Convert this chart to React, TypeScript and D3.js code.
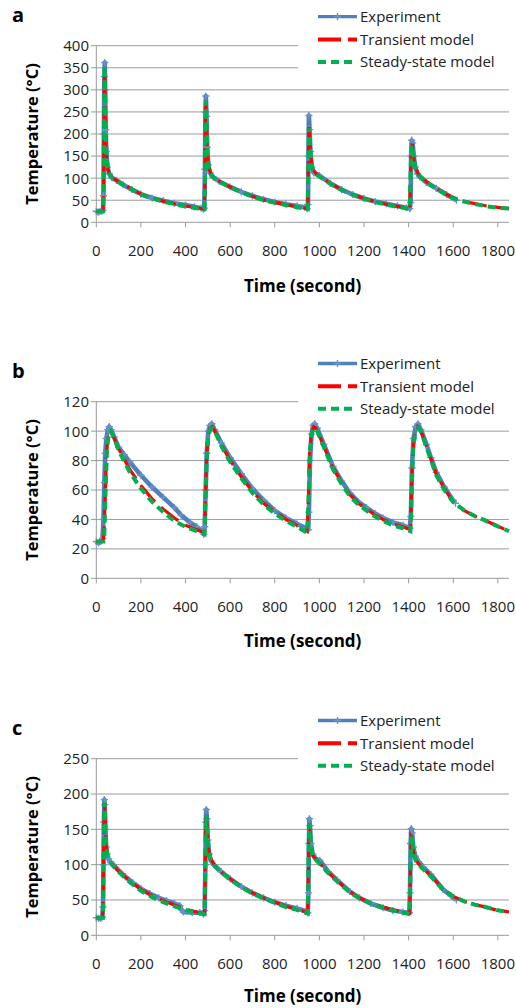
import React from 'react';
import * as d3 from 'd3';

type Pt = [number, number];

// axis ticks
const timeTicks = [0, 200, 400, 600, 800, 1000, 1200, 1400, 1600, 1800];
const aTempTicks = [0, 50, 100, 150, 200, 250, 300, 350, 400];
const bTempTicks = [0, 20, 40, 60, 80, 100, 120];
const cTempTicks = [0, 50, 100, 150, 200, 250];
const legendLabels = ['Experiment', 'Transient model', 'Steady-state model'];

// panel a
const aExperiment: Pt[] = [
  [0, 25], [8, 23], [16, 24], [24, 25], [30, 27], [32, 60], [34, 200], [36, 330], [38, 362], [40, 300], [42, 210], [45, 160], [50, 125], [58, 110], [70, 101], [90, 95], [120, 85], [160, 74], [200, 64], [250, 55], [300, 49], [350, 43], [400, 39], [440, 35], [470, 32], [480, 30],
  [484, 32], [487, 120], [489, 250], [491, 286], [494, 240], [497, 170], [502, 130], [510, 112], [525, 102], [550, 93], [600, 80], [650, 69], [700, 60], [750, 52], [800, 46], [850, 41], [900, 37], [935, 34], [945, 31],
  [949, 40], [951, 150], [953, 242], [956, 210], [960, 160], [966, 125], [975, 112], [1000, 106], [1050, 88], [1100, 74], [1150, 63], [1200, 54], [1250, 47], [1300, 42], [1350, 37], [1390, 33], [1405, 31],
  [1409, 45], [1411, 150], [1414, 186], [1418, 180], [1423, 150], [1430, 125], [1440, 110], [1450, 103], [1480, 90], [1524, 77], [1570, 63], [1614, 50],
];
const aTransient: Pt[] = [
  [0, 25], [30, 25], [32, 50], [34, 180], [36, 320], [38, 340], [40, 260], [43, 180], [47, 140], [52, 120], [60, 108], [75, 100], [100, 92], [150, 78], [200, 64], [250, 55], [300, 48], [350, 42], [400, 37], [450, 33], [485, 30],
  [487, 90], [489, 220], [491, 272], [494, 220], [498, 155], [504, 125], [515, 108], [540, 96], [600, 80], [650, 69], [700, 59], [750, 51], [800, 45], [850, 40], [900, 35], [948, 31],
  [950, 120], [953, 220], [957, 190], [962, 145], [970, 120], [990, 108], [1050, 88], [1100, 74], [1150, 63], [1200, 54], [1250, 47], [1300, 41], [1350, 36], [1405, 31],
  [1408, 100], [1412, 170], [1416, 178], [1422, 150], [1430, 125], [1445, 108], [1480, 92], [1524, 77], [1570, 63], [1620, 52], [1680, 44], [1740, 38], [1800, 34], [1850, 31],
];
const aSteady: Pt[] = [
  [0, 25], [31, 25], [33, 80], [35, 250], [37, 355], [39, 300], [42, 200], [46, 145], [52, 122], [60, 108], [75, 99], [100, 91], [150, 77], [200, 63], [250, 54], [300, 47], [350, 41], [400, 36], [450, 32], [485, 30],
  [488, 120], [490, 240], [492, 275], [495, 215], [499, 150], [505, 122], [515, 107], [540, 95], [600, 79], [650, 68], [700, 58], [750, 50], [800, 44], [850, 39], [900, 34], [948, 30],
  [951, 140], [954, 213], [958, 180], [963, 140], [971, 118], [990, 107], [1050, 87], [1100, 73], [1150, 62], [1200, 53], [1250, 46], [1300, 40], [1350, 35], [1405, 30],
  [1409, 110], [1413, 172], [1417, 175], [1423, 145], [1431, 122], [1445, 107], [1480, 91], [1524, 76], [1570, 62], [1620, 51], [1680, 43], [1740, 37], [1800, 33], [1850, 31],
];

// panel b
const bExperiment: Pt[] = [
  [0, 25], [10, 24], [20, 25], [28, 27], [32, 40], [36, 65], [40, 85], [45, 95], [52, 101], [58, 103], [66, 101], [80, 96], [100, 89], [125, 84], [150, 79], [200, 70], [250, 62], [300, 55], [350, 48], [380, 43], [420, 38], [450, 35], [475, 32], [482, 30],
  [486, 35], [490, 60], [495, 85], [502, 100], [510, 104], [518, 105], [530, 101], [560, 92], [600, 82], [650, 71], [700, 61], [750, 53], [800, 46], [850, 41], [900, 37], [940, 34], [950, 33],
  [953, 45], [958, 80], [965, 98], [972, 104], [979, 105], [990, 102], [1020, 91], [1061, 76], [1100, 66], [1136, 58], [1175, 52], [1211, 48], [1250, 44], [1285, 41], [1330, 38], [1375, 36], [1405, 34],
  [1410, 42], [1415, 75], [1422, 95], [1432, 103], [1442, 105], [1455, 101], [1480, 91], [1500, 82], [1524, 72], [1560, 62], [1599, 53], [1610, 51],
];
const bTransient: Pt[] = [
  [0, 25], [30, 25], [34, 30], [40, 55], [46, 85], [54, 98], [62, 100], [75, 97], [100, 88], [150, 74], [200, 63], [250, 54], [300, 47], [350, 41], [400, 36], [450, 33], [485, 31],
  [489, 50], [494, 80], [500, 96], [510, 102], [520, 103], [535, 99], [560, 91], [600, 80], [650, 69], [700, 59], [750, 51], [800, 45], [850, 40], [900, 36], [945, 32],
  [950, 50], [956, 85], [964, 98], [975, 103], [985, 102], [1020, 90], [1061, 75], [1100, 65], [1136, 57], [1175, 51], [1211, 47], [1250, 43], [1285, 40], [1330, 37], [1375, 35], [1408, 33],
  [1412, 55], [1418, 85], [1427, 98], [1440, 103], [1452, 101], [1480, 90], [1524, 71], [1560, 61], [1599, 52], [1650, 46], [1700, 42], [1733, 40], [1790, 36], [1850, 32],
];
const bSteady: Pt[] = [
  [0, 25], [32, 25], [36, 30], [42, 60], [48, 88], [56, 98], [65, 100], [78, 96], [100, 87], [150, 72], [200, 61], [250, 52], [300, 45], [350, 39], [400, 35], [450, 32], [485, 30],
  [490, 55], [496, 85], [503, 97], [513, 102], [523, 102], [540, 97], [560, 90], [600, 79], [650, 68], [700, 58], [750, 50], [800, 44], [850, 39], [900, 35], [945, 31],
  [952, 55], [958, 88], [967, 99], [978, 102], [990, 100], [1020, 89], [1061, 74], [1100, 64], [1136, 56], [1175, 50], [1211, 46], [1250, 42], [1285, 39], [1330, 36], [1375, 34], [1408, 32],
  [1414, 60], [1420, 88], [1430, 99], [1443, 102], [1455, 100], [1480, 89], [1524, 70], [1560, 60], [1599, 52], [1650, 46], [1700, 42], [1733, 40], [1790, 36], [1850, 32],
];

// panel c
const cExperiment: Pt[] = [
  [0, 25], [10, 24], [20, 24], [27, 26], [30, 40], [32, 100], [34, 160], [36, 192], [38, 185], [41, 150], [44, 125], [48, 115], [55, 108], [65, 103], [76, 100], [100, 92], [130, 83], [166, 74], [200, 66], [240, 59], [280, 53], [315, 49], [350, 45], [375, 42], [382, 36], [390, 33], [430, 32], [464, 32], [480, 30],
  [486, 35], [489, 100], [491, 160], [493, 178], [496, 165], [500, 135], [506, 115], [515, 105], [530, 99], [560, 90], [600, 80], [650, 69], [700, 60], [750, 53], [800, 47], [850, 42], [900, 38], [940, 34], [948, 32],
  [951, 60], [953, 130], [955, 165], [958, 155], [962, 130], [970, 115], [985, 108], [1002, 106], [1040, 90], [1080, 78], [1136, 62], [1180, 53], [1230, 45], [1285, 39], [1330, 35], [1375, 33], [1403, 32],
  [1406, 60], [1409, 130], [1412, 151], [1416, 145], [1421, 125], [1430, 112], [1445, 104], [1464, 97], [1500, 86], [1554, 65], [1590, 56], [1614, 50],
];
const cTransient: Pt[] = [
  [0, 25], [28, 25], [31, 60], [33, 130], [35, 175], [37, 185], [40, 160], [44, 130], [50, 113], [60, 105], [76, 99], [100, 91], [150, 77], [200, 65], [250, 56], [300, 49], [350, 43], [400, 37], [450, 33], [485, 30],
  [488, 80], [490, 150], [493, 172], [497, 150], [502, 125], [510, 110], [530, 99], [560, 90], [600, 80], [650, 69], [700, 60], [750, 53], [800, 47], [850, 41], [900, 37], [948, 32],
  [951, 100], [954, 158], [957, 150], [962, 128], [970, 113], [990, 106], [1040, 89], [1080, 77], [1136, 62], [1180, 53], [1230, 46], [1285, 40], [1330, 36], [1375, 33], [1405, 31],
  [1408, 90], [1411, 140], [1415, 138], [1421, 120], [1430, 108], [1445, 101], [1464, 95], [1500, 84], [1554, 66], [1600, 55], [1650, 48], [1700, 43], [1733, 41], [1790, 36], [1850, 33],
];
const cSteady: Pt[] = [
  [0, 25], [30, 25], [32, 80], [34, 150], [36, 188], [38, 180], [41, 150], [45, 125], [51, 111], [60, 104], [76, 98], [100, 90], [150, 75], [200, 63], [250, 54], [300, 47], [350, 41], [400, 36], [450, 32], [485, 30],
  [489, 110], [491, 160], [494, 170], [498, 145], [503, 122], [511, 108], [530, 98], [560, 89], [600, 79], [650, 68], [700, 59], [750, 52], [800, 46], [850, 40], [900, 36], [948, 31],
  [952, 120], [955, 158], [958, 148], [963, 125], [971, 111], [990, 105], [1040, 88], [1080, 76], [1136, 61], [1180, 52], [1230, 45], [1285, 39], [1330, 35], [1375, 32], [1405, 30],
  [1409, 100], [1412, 140], [1416, 136], [1422, 118], [1431, 106], [1445, 100], [1464, 94], [1500, 83], [1554, 65], [1600, 55], [1650, 48], [1700, 43], [1733, 41], [1790, 36], [1850, 33],
];

const W = 516;
const H = 1008;
const left = 96.3, right = 509, top = 45.7, bottom = 222.3;
const FONT = '"Open Sans", "Noto Sans", sans-serif';
const GRID = '#9a9a9a';
const BLUE = '#4F81BD', RED = '#FF0000', GREEN = '#00B050';

const panels = [
  { letter: 'a', dy: 0, yMax: 400, ticks: aTempTicks, legendY: 16.7, titleY: 291.7, exp: aExperiment, tr: aTransient, ss: aSteady },
  { letter: 'b', dy: 356, yMax: 120, ticks: bTempTicks, legendY: 7.5, titleY: 291.2, exp: bExperiment, tr: bTransient, ss: bSteady },
  { letter: 'c', dy: 713, yMax: 250, ticks: cTempTicks, legendY: 7.5, titleY: 289.3, exp: cExperiment, tr: cTransient, ss: cSteady },
];

const x = d3.scaleLinear().domain([0, 1850]).range([left, right]);

function Plus({ cx, cy, s = 3.6 }: { cx: number; cy: number; s?: number }) {
  return (
    <path d={`M${cx - s},${cy}H${cx + s}M${cx},${cy - s}V${cy + s}`} stroke="#6a93c8" strokeWidth={1.4} />
  );
}

function Panel({ p }: { p: typeof panels[number] }) {
  const y = d3.scaleLinear().domain([0, p.yMax]).range([bottom, top]);
  const line = d3.line<Pt>().x(d => x(d[0])).y(d => y(d[1]));
  const legendRows = [p.legendY, p.legendY + 22.8, p.legendY + 45.3];
  return (
    <g transform={`translate(0,${p.dy})`}>
      <text x={12} y={22} fontFamily={FONT} fontWeight="bold" fontSize={20} fill="#000">{p.letter}</text>
      {/* gridlines and y ticks */}
      {p.ticks.map(t => (
        <g key={t}>
          <line x1={91} x2={right} y1={y(t)} y2={y(t)} stroke={GRID} strokeWidth={1} />
          <text x={89} y={y(t)} dy="0.36em" textAnchor="end" fontFamily={FONT} fontSize={15} fill="#222">{t}</text>
        </g>
      ))}
      <line x1={left} x2={left} y1={top} y2={bottom} stroke={GRID} strokeWidth={1} />
      {timeTicks.map(t => (
        <g key={t}>
          <line x1={x(t)} x2={x(t)} y1={bottom} y2={bottom + 5} stroke={GRID} strokeWidth={1} />
          <text x={x(t)} y={256} textAnchor="middle" fontFamily={FONT} fontSize={15} fill="#222">{t}</text>
        </g>
      ))}
      {/* series */}
      <path d={line(p.exp) ?? ''} fill="none" stroke={BLUE} strokeWidth={4.6} strokeLinejoin="round" />
      {p.exp.map((d, i) => <Plus key={i} cx={x(d[0])} cy={y(d[1])} />)}
      <path d={line(p.tr) ?? ''} fill="none" stroke={RED} strokeWidth={3.2} strokeDasharray="22 8" />
      <path d={line(p.ss) ?? ''} fill="none" stroke={GREEN} strokeWidth={4} strokeDasharray="8 5" />
      {/* legend */}
      <rect x={298} y={p.legendY - 14} width={W - 298} height={70} fill="#fff" />
      {legendLabels.map((lab, i) => {
        const ly = legendRows[i];
        const stroke = i === 0 ? BLUE : i === 1 ? RED : GREEN;
        const dash = i === 0 ? undefined : i === 1 ? '23 7 9' : '8 5';
        return (
          <g key={lab}>
            <line x1={318} x2={357} y1={ly} y2={ly} stroke={stroke} strokeWidth={i === 0 ? 3.3 : 4} strokeDasharray={dash} />
            {i === 0 && <Plus cx={337.5} cy={ly} />}
            <text x={360} y={ly} dy="0.36em" fontFamily={FONT} fontSize={15} fill="#222">{lab}</text>
          </g>
        );
      })}
      {/* axis titles */}
      <text transform={`translate(37.5,${(top + bottom) / 2}) rotate(-90)`} textAnchor="middle" fontFamily={FONT} fontWeight="bold" fontSize={16.5} fill="#000">Temperature (°C)</text>
      <text x={(left + right) / 2} y={p.titleY} textAnchor="middle" fontFamily={FONT} fontWeight="bold" fontSize={17} fill="#000">Time (second)</text>
    </g>
  );
}

export default function App() {
  return (
    <svg width={W} height={H} style={{ position: 'absolute', left: 0, top: 0, background: '#fff' }}>
      <rect width={W} height={H} fill="#fff" />
      {panels.map(p => <Panel key={p.letter} p={p} />)}
    </svg>
  );
}
